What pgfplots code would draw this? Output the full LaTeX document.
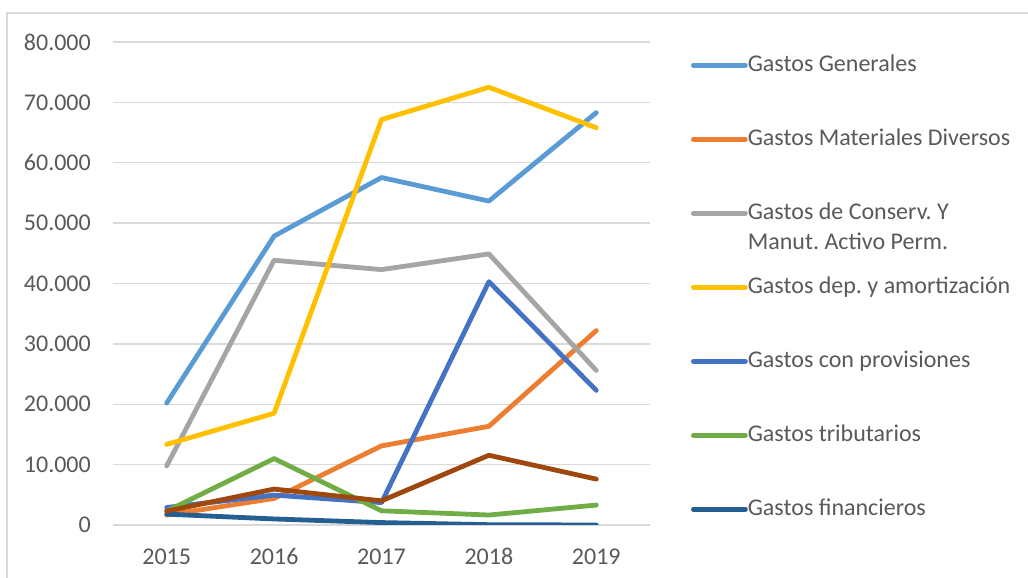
\documentclass[border=0pt]{standalone}
\usepackage{pgfplots}
\pgfplotsset{compat=1.18}
\usepackage{fontspec}
\setmainfont{Carlito}
\definecolor{cGen}{HTML}{5B9BD5}
\definecolor{cMat}{HTML}{ED7D31}
\definecolor{cCon}{HTML}{A5A5A5}
\definecolor{cDep}{HTML}{FFC000}
\definecolor{cPro}{HTML}{4472C4}
\definecolor{cTri}{HTML}{70AD47}
\definecolor{cFin}{HTML}{255E91}
\definecolor{cBro}{HTML}{9E480E}
\definecolor{txtgray}{HTML}{595959}
\definecolor{gridgray}{HTML}{D9D9D9}
\begin{document}
\frenchspacing
\begin{tikzpicture}[x=1pt,y=1pt]
\useasboundingbox (0,0) rectangle (1028,578);
\draw[gridgray, line width=1.2pt] (7,0) -- (7,565) -- (1028,565);
\begin{axis}[
  at={(113pt,53pt)}, anchor=south west,
  scale only axis, width=537pt, height=483pt,
  xmin=-0.5, xmax=4.5, ymin=0, ymax=80000,
  xtick={0,1,2,3,4}, xticklabels={2015,2016,2017,2018,2019},
  ytick={0,10000,20000,30000,40000,50000,60000,70000,80000},
  scaled y ticks=false,
  /pgf/number format/fixed, /pgf/number format/precision=0,
  /pgf/number format/1000 sep={.}, /pgf/number format/assume math mode=true,
  major tick length=0pt,
  axis line style={draw=none},
  ymajorgrids, grid style={gridgray, line width=1.4pt},
  tick label style={font=\fontsize{24}{29}\selectfont, text=txtgray},
  yticklabel style={inner sep=0pt, anchor=east, xshift=-22pt},
  xticklabel style={inner sep=0pt, anchor=base, yshift=-40pt},
  every axis plot/.append style={line width=4.8pt, line cap=round, line join=round},
  legend image code/.code={\draw[#1, line cap=round] (0pt,0pt) -- (52pt,0pt);},
  legend cell align=left,
  legend style={draw=none, fill=none, inner sep=0pt, at={(1.076,0.975)}, anchor=north west,
    font=\fontsize{24}{29}\selectfont, text=txtgray, row sep=52pt,
    nodes={inner sep=0pt, text height=17pt, text depth=5pt}},
]
\addplot[cGen] coordinates {(0,20200) (1,47850) (2,57550) (3,53650) (4,68300)};
\addlegendentry{Gastos Generales}
\addplot[cMat] coordinates {(0,1650) (1,4400) (2,13100) (3,16350) (4,32200)};
\addlegendentry{Gastos Materiales Diversos}
\addplot[cCon] coordinates {(0,9800) (1,43850) (2,42300) (3,44900) (4,25600)};
\addlegendentry{\raisebox{0pt}[\height][0pt]{\begin{tabular}[t]{@{}l@{}}Gastos de Conserv. Y\\[1pt]Manut. Activo Perm.\end{tabular}}}
\addplot[cDep] coordinates {(0,13350) (1,18500) (2,67150) (3,72500) (4,65800)};
\addlegendentry{Gastos dep. y amortización}
\addplot[cPro] coordinates {(0,2900) (1,4950) (2,3700) (3,40300) (4,22300)};
\addlegendentry{Gastos con provisiones}
\addplot[cTri] coordinates {(0,2300) (1,11000) (2,2350) (3,1650) (4,3300)};
\addlegendentry{Gastos tributarios}
\addplot[cFin] coordinates {(0,1800) (1,1000) (2,400) (3,50) (4,0)};
\addlegendentry{Gastos financieros}
\addplot[cBro, forget plot] coordinates {(0,2300) (1,5950) (2,4000) (3,11550) (4,7600)};
\end{axis}
\end{tikzpicture}
\end{document}
